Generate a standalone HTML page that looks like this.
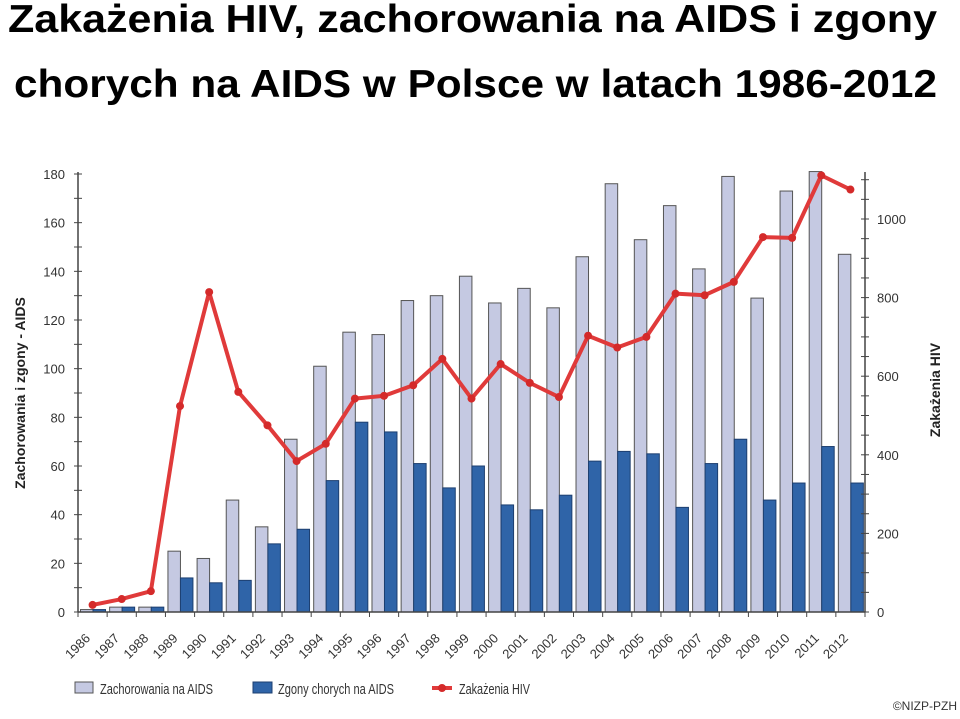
<!DOCTYPE html>
<html><head><meta charset="utf-8"><style>
body{margin:0;width:960px;height:719px;background:#fff;overflow:hidden;font-family:"Liberation Sans",sans-serif}
svg{position:absolute;left:0;top:0}
</style></head><body>
<svg id="c" width="960" height="719">
<text x="8" y="32" font-size="39" font-weight="bold" textLength="929" lengthAdjust="spacingAndGlyphs">Zakażenia HIV, zachorowania na AIDS i zgony</text>
<text x="14" y="97" font-size="39" font-weight="bold" textLength="923" lengthAdjust="spacingAndGlyphs">chorych na AIDS w Polsce w latach 1986-2012</text>
</svg>
<script>
const years=["1986","1987","1988","1989","1990","1991","1992","1993","1994","1995","1996","1997","1998","1999","2000","2001","2002","2003","2004","2005","2006","2007","2008","2009","2010","2011","2012"];
const aidsCases=[1,2,2,25,22,46,35,71,101,115,114,128,130,138,127,133,125,146,176,153,167,141,179,129,173,181,147];
const aidsDeaths=[1,2,2,14,12,13,28,34,54,78,74,61,51,60,44,42,48,62,66,65,43,61,71,46,53,68,53];
const hivInfections=[18,33,53,524,814,560,475,384,428,543,550,577,644,543,631,583,547,703,673,700,810,806,840,954,952,1111,1075];
const leftTicks=[0,20,40,60,80,100,120,140,160,180];
const rightTicks=[0,200,400,600,800,1000];
const NS="http://www.w3.org/2000/svg";
const svg=document.getElementById('c');
const X0=78,X1=865,Y0=612,YT=174;
const slot=(X1-X0)/years.length;
const yL=v=>Y0-(Y0-YT)*v/180;
const yR=v=>Y0-v*0.393;
const xS=i=>X0+slot*i;
function el(t,a,p){const e=document.createElementNS(NS,t);for(const k in a)e.setAttribute(k,a[k]);(p||svg).appendChild(e);return e;}
years.forEach((y,i)=>{
  let b=el('rect',{x:xS(i)+2.5,y:yL(aidsCases[i]),width:12.5,height:Y0-yL(aidsCases[i]),fill:'#c5c9e2',stroke:'#555','stroke-width':1});
  
  
  let d=el('rect',{x:xS(i)+15,y:yL(aidsDeaths[i]),width:12.5,height:Y0-yL(aidsDeaths[i]),fill:'#2f64a8',stroke:'#1d3f70','stroke-width':1});
  
  
});
let la=el('line',{x1:X0,y1:YT-2,x2:X0,y2:Y0,stroke:'#444','stroke-width':1.5});

let ra=el('line',{x1:X1,y1:YT-2,x2:X1,y2:Y0,stroke:'#444','stroke-width':1.5});

let xa=el('line',{x1:X0,y1:Y0,x2:X1,y2:Y0,stroke:'#444','stroke-width':1.5});

for(let v=0;v<=180;v+=10)el('line',{x1:X0-4,y1:yL(v),x2:X0+4,y2:yL(v),stroke:'#444'});
for(let v=0;v<=1100;v+=50)el('line',{x1:X1-4,y1:yR(v),x2:X1+4,y2:yR(v),stroke:'#444'});
for(let i=0;i<=years.length;i++)el('line',{x1:xS(i),y1:Y0,x2:xS(i),y2:Y0+5,stroke:'#444'});
leftTicks.forEach(v=>{let t=el('text',{x:X0-13,y:yL(v)+5,'text-anchor':'end','font-size':13,fill:'#333'});t.textContent=v;
});
rightTicks.forEach(v=>{let t=el('text',{x:X1+12,y:yR(v)+5,'font-size':13,fill:'#333'});t.textContent=v;
});
years.forEach((y,i)=>{const x=xS(i)+13,yy=Y0+27;let t=el('text',{x:x,y:yy,'text-anchor':'end','font-size':13,fill:'#333',transform:`rotate(-45 ${x} ${yy})`});t.textContent=y;
});
let lt=el('text',{x:25,y:393,'text-anchor':'middle','font-size':14,'font-weight':'bold',fill:'#222',transform:'rotate(-90 25 393)'});lt.textContent='Zachorowania i zgony - AIDS';

let rt=el('text',{x:940,y:390,'text-anchor':'middle','font-size':14,'font-weight':'bold',fill:'#222',transform:'rotate(-90 940 390)'});rt.textContent='Zakażenia HIV';

const pts=hivInfections.map((v,i)=>[xS(i)+slot/2,yR(v)]);
let pl=el('polyline',{points:pts.map(p=>p.join(',')).join(' '),fill:'none',stroke:'#e03a3a','stroke-width':4,'stroke-linejoin':'round'});

pts.forEach((p,i)=>{let c=el('circle',{cx:p[0],cy:p[1],r:4,fill:'#d42a2a'});
});
const lg=el('g',{});

let s1=el('rect',{x:75,y:682,width:18,height:11,fill:'#c5c9e2',stroke:'#555'},lg);

let t1=el('text',{x:100,y:694,'font-size':15,fill:'#333',textLength:113,lengthAdjust:'spacingAndGlyphs'},lg);t1.textContent='Zachorowania na AIDS';

let s2=el('rect',{x:253,y:682,width:19,height:11,fill:'#2f64a8',stroke:'#1d3f70'},lg);

let t2=el('text',{x:278,y:694,'font-size':15,fill:'#333',textLength:116,lengthAdjust:'spacingAndGlyphs'},lg);t2.textContent='Zgony chorych na AIDS';

let s3=el('line',{x1:432,y1:688,x2:452,y2:688,stroke:'#e03a3a','stroke-width':4},lg);

let s3b=el('circle',{cx:442,cy:688,r:4,fill:'#d42a2a'},lg);

let t3=el('text',{x:459,y:694,'font-size':15,fill:'#333',textLength:71,lengthAdjust:'spacingAndGlyphs'},lg);t3.textContent='Zakażenia HIV';

let cp=el('text',{x:957,y:710,'text-anchor':'end','font-size':12,fill:'#333'});cp.textContent='©NIZP-PZH';

</script>
</body></html>
